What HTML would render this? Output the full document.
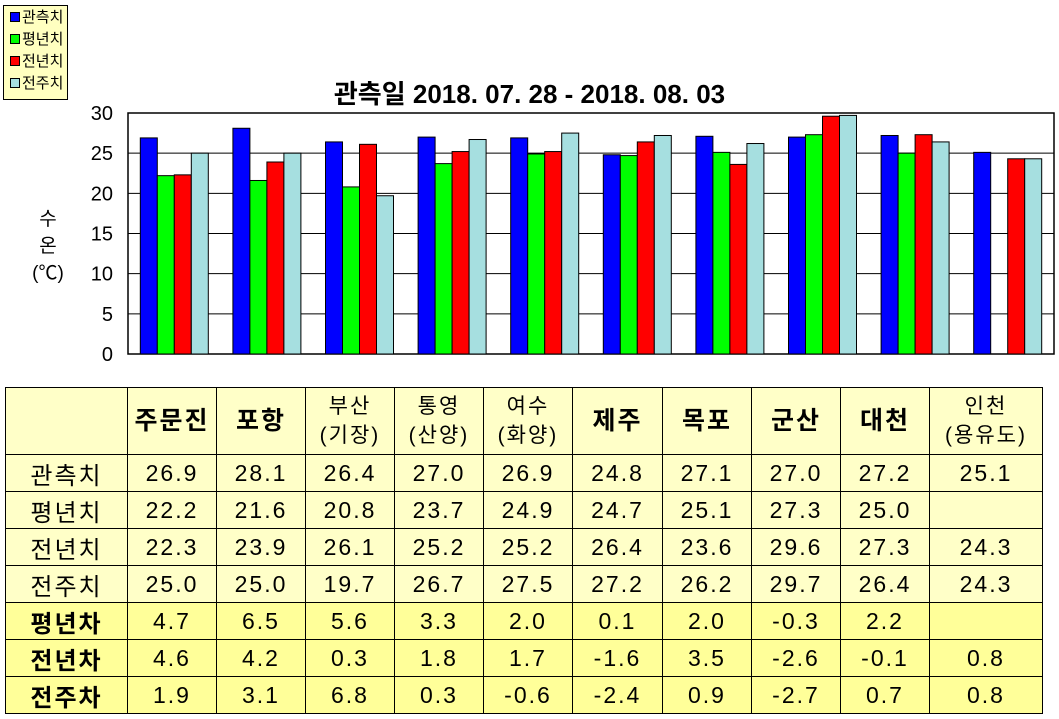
<!DOCTYPE html>
<html><head><meta charset="utf-8"><style>
body{margin:0;width:1059px;height:719px;background:#fff;font-family:"Liberation Sans","Noto Sans CJK KR",sans-serif;position:relative;overflow:hidden}
#legend{position:absolute;left:3px;top:5px;width:63px;height:93px;background:#ffffc0;border:1px solid #000;font-size:15px}
.le{position:absolute;left:6px;height:20px;line-height:20px}
.le i{display:inline-block;width:8px;height:8px;border:1px solid #000;margin-right:2px;vertical-align:middle;position:relative;top:-1px}
#title{position:absolute;left:0;width:1059px;top:74px;text-align:center;font-size:26px;font-weight:bold}
table{position:absolute;left:5px;top:387px;border-collapse:collapse;font-size:23px;table-layout:fixed}
td{border:1px solid #000;background:#ffffc8;text-align:center;padding:0;height:36px;letter-spacing:2px;font-family:"Liberation Sans","Noto Sans CJK KR",sans-serif;white-space:nowrap}
tr.h td{height:66px;font-size:21px;line-height:29px}
tr.d td{background:#ffff99}
tr.d td:first-child{font-weight:bold}
td:first-child{font-size:24px}
.hb{font-weight:bold;font-size:25px!important}
</style></head><body>
<div id="legend">
<div class="le" style="top:2px"><i style="background:#0000ff"></i>관측치</div>
<div class="le" style="top:24px"><i style="background:#00ff00"></i>평년치</div>
<div class="le" style="top:46px"><i style="background:#ff0000"></i>전년치</div>
<div class="le" style="top:68px"><i style="background:#a6dfe0"></i>전주치</div>
</div>
<div id="title">관측일 2018. 07. 28 - 2018. 08. 03</div>
<svg id="chart" width="1059" height="380" style="position:absolute;left:0;top:0"></svg>
<table>
<tr class="h"><td style="width:121px"></td><td class="hb" style="width:88px">주문진</td><td class="hb" style="width:88px">포항</td><td style="width:88px">부산<br>(기장)</td><td style="width:88px">통영<br>(산양)</td><td style="width:88px">여수<br>(화양)</td><td class="hb" style="width:89px">제주</td><td class="hb" style="width:88px">목포</td><td class="hb" style="width:88px">군산</td><td class="hb" style="width:88px">대천</td><td style="width:112px">인천<br>(용유도)</td></tr>
<tr><td>관측치</td><td>26.9</td><td>28.1</td><td>26.4</td><td>27.0</td><td>26.9</td><td>24.8</td><td>27.1</td><td>27.0</td><td>27.2</td><td>25.1</td></tr>
<tr><td>평년치</td><td>22.2</td><td>21.6</td><td>20.8</td><td>23.7</td><td>24.9</td><td>24.7</td><td>25.1</td><td>27.3</td><td>25.0</td><td></td></tr>
<tr><td>전년치</td><td>22.3</td><td>23.9</td><td>26.1</td><td>25.2</td><td>25.2</td><td>26.4</td><td>23.6</td><td>29.6</td><td>27.3</td><td>24.3</td></tr>
<tr><td>전주치</td><td>25.0</td><td>25.0</td><td>19.7</td><td>26.7</td><td>27.5</td><td>27.2</td><td>26.2</td><td>29.7</td><td>26.4</td><td>24.3</td></tr>
<tr class="d"><td>평년차</td><td>4.7</td><td>6.5</td><td>5.6</td><td>3.3</td><td>2.0</td><td>0.1</td><td>2.0</td><td>-0.3</td><td>2.2</td><td></td></tr>
<tr class="d"><td>전년차</td><td>4.6</td><td>4.2</td><td>0.3</td><td>1.8</td><td>1.7</td><td>-1.6</td><td>3.5</td><td>-2.6</td><td>-0.1</td><td>0.8</td></tr>
<tr class="d"><td>전주차</td><td>1.9</td><td>3.1</td><td>6.8</td><td>0.3</td><td>-0.6</td><td>-2.4</td><td>0.9</td><td>-2.7</td><td>0.7</td><td>0.8</td></tr>
</table>
<script>
const categories=["주문진","포항","부산","통영","여수","제주","목포","군산","대천","인천"];
const observed=[26.9,28.1,26.4,27.0,26.9,24.8,27.1,27.0,27.2,25.1];
const normal=[22.2,21.6,20.8,23.7,24.9,24.7,25.1,27.3,25.0,null];
const lastYear=[22.3,23.9,26.1,25.2,25.2,26.4,23.6,29.6,27.3,24.3];
const lastWeek=[25.0,25.0,19.7,26.7,27.5,27.2,26.2,29.7,26.4,24.3];
const yTicks=[0,5,10,15,20,25,30];
const series=[observed,normal,lastYear,lastWeek];
const colors=["#0000ff","#00ff00","#ff0000","#a6dfe0"];
const names=["observed","normal","last-year","last-week"];
const svg=document.getElementById('chart');
const NS="http://www.w3.org/2000/svg";
const X0=128,X1=1054,Y0=354,Y1=113,YMAX=30;
const y=v=>Y0-(v/YMAX)*(Y0-Y1);
const gw=(X1-X0)/categories.length,bw=17;
function mk(t,a){const e=document.createElementNS(NS,t);for(const k in a)e.setAttribute(k,a[k]);svg.appendChild(e);return e;}
let r=mk('rect',{x:X0,y:Y1,width:X1-X0,height:Y0-Y1,fill:'#fff',stroke:'#000','stroke-width':1.5});


yTicks.forEach(t=>{
 if(t>0&&t<YMAX){const l=mk('line',{x1:X0,x2:X1,y1:y(t),y2:y(t),stroke:'#000','stroke-width':1});
 
 }
 const tx=mk('text',{x:113,y:y(t)+7,'text-anchor':'end','font-size':20,'font-family':'Liberation Sans, sans-serif'});
 tx.textContent=t;
 
 
});
categories.forEach((c,i)=>{
 const start=X0+i*gw+(gw-4*bw)/2;
 series.forEach((s,j)=>{
  if(s[i]==null)return;
  const b=mk('rect',{x:start+j*bw,y:y(s[i]),width:bw,height:Y0-y(s[i]),fill:colors[j],stroke:'#000','stroke-width':1});
  
  
 });
});
[['수',225],['온',252],['(℃)',279]].forEach(([s,yy])=>{
 const t=mk('text',{x:48,y:yy,'text-anchor':'middle','font-size':19,'font-family':'Liberation Sans, Noto Sans CJK KR, sans-serif'});
 t.textContent=s;
 
 
});
</script>
</body></html>
